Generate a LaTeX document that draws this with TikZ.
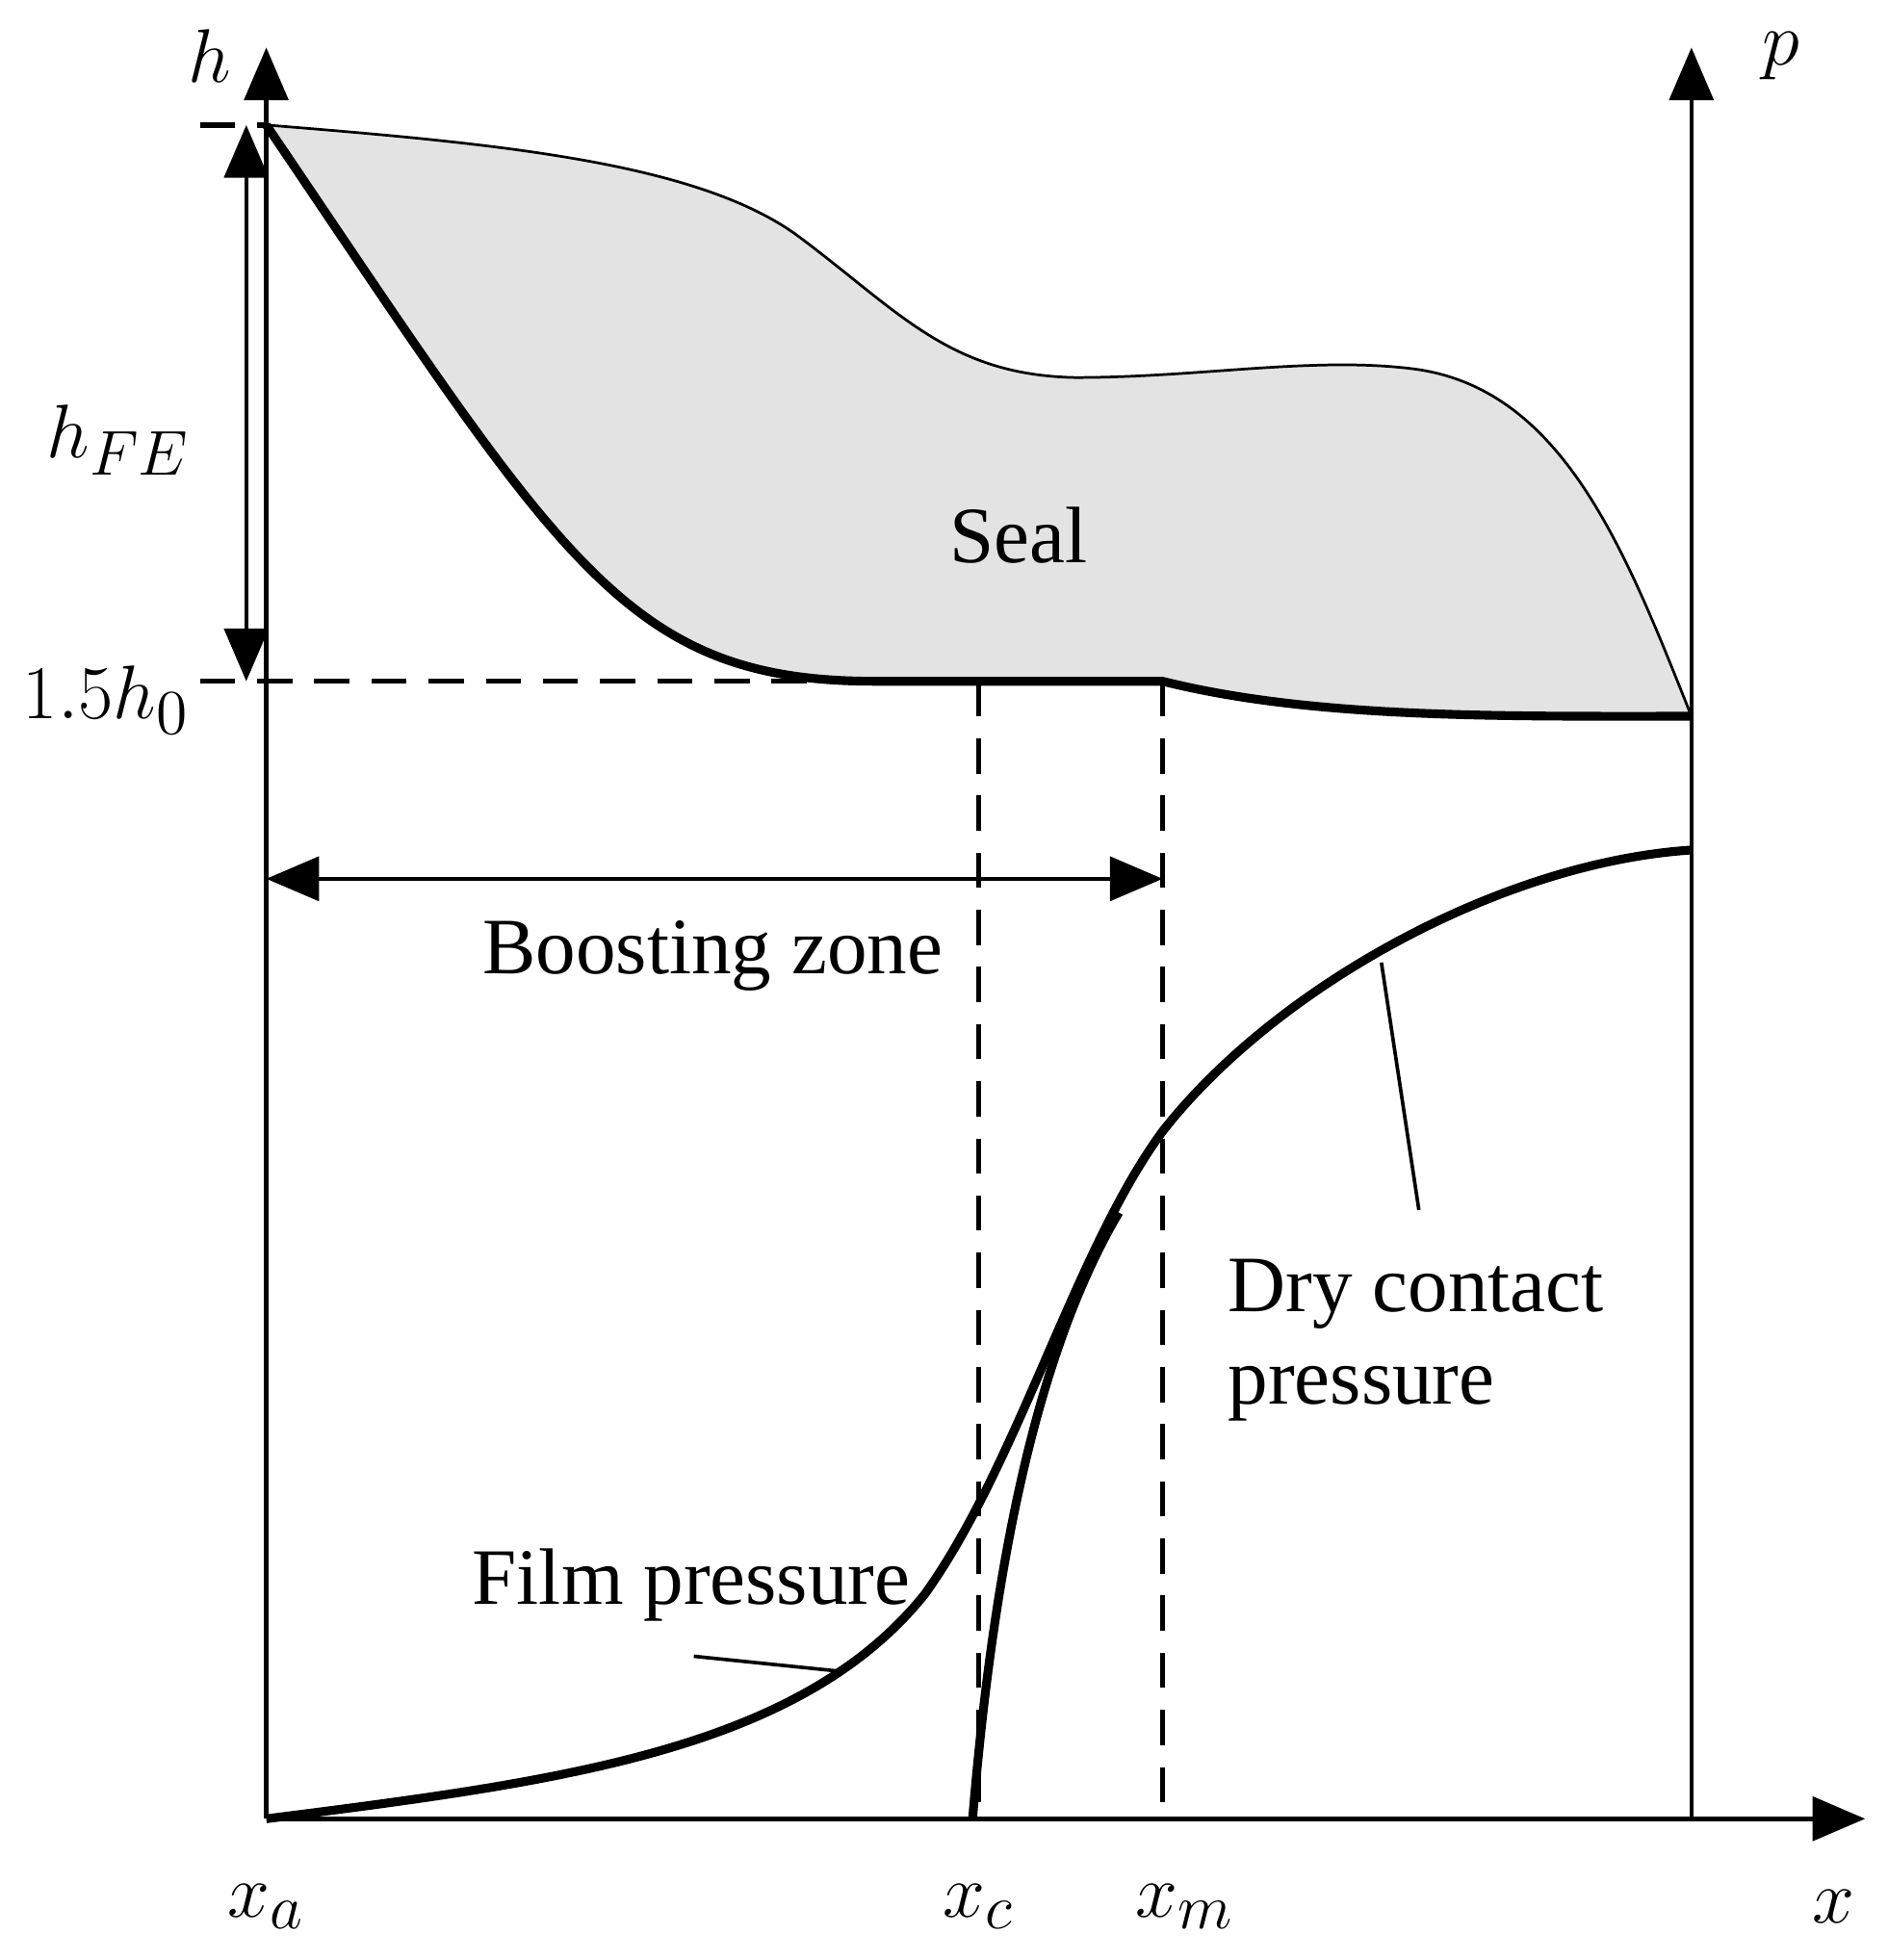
\documentclass[tikz,border=0pt]{standalone}
\usepackage{fontspec}
\setmainfont{Liberation Serif}
\usetikzlibrary{arrows.meta}
\begin{document}
\begin{tikzpicture}[x=0.01cm,y=-0.01cm,
  ax/.style={line width=1pt,-{Triangle[length=12pt,width=10pt]}},
  thick2/.style={line width=2pt},
  dsh/.style={dashed,line width=1.2pt,dash pattern=on 8pt off 5pt},
  lab/.style={font=\fontsize{18.2}{21}\selectfont},
  mlab/.style={font=\fontsize{19}{22}\selectfont}]
\useasboundingbox (0,0) rectangle (1510,1568);
% seal
\fill[gray!22] (213,100) .. controls (400,115) and (560,130) .. (640,190)
  .. controls (720,250) and (760,300) .. (860,302)
  .. controls (960,302) and (1050,285) .. (1130,295)
  .. controls (1250,310) and (1300,440) .. (1353,573)
  .. controls (1200,573) and (1050,575) .. (930,545)
  -- (700,545) .. controls (500,545) and (450,450) .. (213,100) -- cycle;
\draw[line width=0.6pt] (213,100) .. controls (400,115) and (560,130) .. (640,190)
  .. controls (720,250) and (760,300) .. (860,302)
  .. controls (960,302) and (1050,285) .. (1130,295)
  .. controls (1250,310) and (1300,440) .. (1353,573);
\draw[thick2] (213,100) .. controls (450,450) and (500,545) .. (700,545) -- (930,545)
  .. controls (1050,575) and (1200,573) .. (1353,573);
% axes
\coordinate (o) at (213,1455);
\coordinate (htop) at (213,38);
\coordinate (pb) at (1353,1455);
\coordinate (ptop) at (1353,38);
\coordinate (xe) at (1492,1455);
\draw[ax] (o) -- (htop);
\draw[ax] (pb) -- (ptop);
\draw[ax] (o) -- (xe);
% dashed
\coordinate (t0) at (160,100); \coordinate (t1) at (213,100);
\draw[dsh] (t0) -- (t1);
\coordinate (d0) at (160,545); \coordinate (d1) at (930,545);
\draw[dsh] (d0) -- (d1);
\coordinate (c0) at (783,545); \coordinate (c1) at (783,1455);
\coordinate (m0) at (930,545); \coordinate (m1) at (930,1445);
\draw[dsh] (c0) -- (c1);
\draw[dsh] (m0) -- (m1);
% hFE arrow
\coordinate (f0) at (197,100); \coordinate (f1) at (197,545);
\draw[line width=1pt,{Triangle[length=12pt,width=10pt]}-{Triangle[length=12pt,width=10pt]}] (f0) -- (f1);
% boosting zone
\coordinate (b0) at (213,703); \coordinate (b1) at (930,703);
\draw[line width=1pt,{Triangle[length=12pt,width=10pt]}-{Triangle[length=12pt,width=10pt]}] (b0) -- (b1);
% film pressure
\draw[thick2] (o) .. controls (450,1425) and (640,1400) .. (740,1275)
  .. controls (815,1170) and (860,1000) .. (930,905)
  .. controls (1020,790) and (1200,690) .. (1353,680);
% dry contact
\coordinate (dc) at (778,1455);
\draw[thick2] (dc) .. controls (795,1250) and (830,1080) .. (895,970);
% leaders
\draw[line width=0.8pt] (555,1325) -- (672,1337);
\draw[line width=0.8pt] (1105,770) -- (1135,968);
% labels
\node[lab] (seal) at (815,428) {Seal};
\node[lab] (bz) at (570,765) {Boosting zone};
\node[lab,anchor=west,align=left] (dcp) at (970,1072) {Dry contact\\pressure};
\node[lab] (fp) at (553,1268) {Film pressure};
\node[mlab] (xa) at (213,1525) {$x_a$};
\node[mlab] (xc) at (783,1525) {$x_c$};
\node[mlab] (xm) at (948,1525) {$x_m$};
\node[mlab] (xx) at (1467,1525) {$x$};
\node[mlab] (hh) at (168,45) {$h$};
\node[mlab] (pp) at (1425,45) {$p$};
\node[mlab] (hfe) at (95,352) {$h_{FE}$};
\node[mlab] (h0) at (85,560) {$1.5h_0$};
\end{tikzpicture}
\end{document}
